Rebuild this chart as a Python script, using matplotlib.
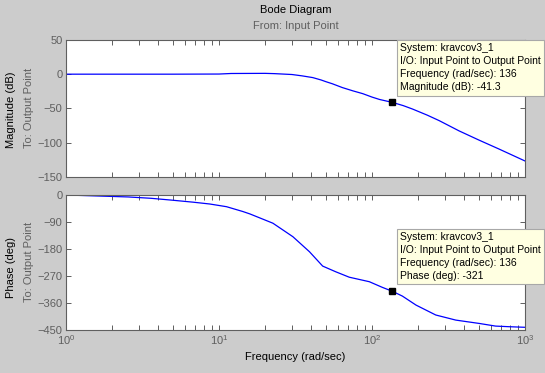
import matplotlib
matplotlib.use("Agg")
import matplotlib.pyplot as plt
from matplotlib.ticker import LogLocator, NullFormatter, FixedLocator

plt.rcParams['font.family'] = ['Liberation Sans', 'DejaVu Sans']
plt.rcParams['mathtext.fontset'] = 'custom'
plt.rcParams['mathtext.rm'] = 'Liberation Sans'
plt.rcParams['mathtext.it'] = 'Liberation Sans'

# ---- data ----
mag_freq = [1, 5, 10, 12, 20, 23, 30, 35, 41, 46.5, 50, 55, 64, 75, 87, 100,
            112, 136, 160, 184, 230, 275, 371, 501, 676, 1000]
mag_db = [0, 0, 0.2, 1.0, 1.2, 0.8, -0.5, -2.5, -5, -8.5, -11, -14, -19.6, -24.4,
          -28.5, -33.5, -37, -41.3, -46, -51, -60, -68, -83, -96.5, -109.5, -127]

ph_freq = [1, 1.55, 2.55, 3.6, 5.0, 6.8, 8.7, 11.2, 14.3, 15.9, 18.4, 22.5, 30.4,
           39, 47.6, 58, 71, 96, 117, 136, 158, 194, 261, 353, 500, 643, 785, 1000]
ph_deg = [0, -3, -6.5, -11, -17.5, -24, -30, -39, -55, -63, -76, -94, -139,
          -189, -237, -256, -274, -289, -308, -321, -337, -367, -400, -417, -428,
          -437, -439, -441]

tip_freq = 136
tip_mag = -41.3
tip_phase = -321
system_name = "kravcov3_1"

mag_ticks = [-150, -100, -50, 0, 50]
ph_ticks = [-450, -360, -270, -180, -90, 0]

# ---- styling ----
W, H = 545, 373
bg = '#cccccc'
axc = '#5f5f5f'
fig = plt.figure(figsize=(W / 100, H / 100), dpi=100, facecolor=bg)

def px(x, y):
    return x / W, 1 - y / H

left, right = 66, 525
ax1 = fig.add_axes([left / W, 1 - 176.7 / H, (right - left) / W, 136.7 / H])
ax2 = fig.add_axes([left / W, 1 - 330 / H, (right - left) / W, 135 / H])

for ax in (ax1, ax2):
    ax.set_xscale('log')
    ax.set_xlim(1, 1000)
    ax.set_facecolor('white')
    for s in ax.spines.values():
        s.set_color(axc)
        s.set_linewidth(0.8)
    ax.xaxis.set_minor_locator(LogLocator(base=10, subs=range(2, 10)))
    ax.xaxis.set_minor_formatter(NullFormatter())
    ax.tick_params(which='both', direction='in', top=True, right=True,
                   length=3.3, width=0.7, color=axc, labelcolor=axc,
                   labelsize=8, pad=2.5)

ax1.set_ylim(-150, 50)
ax1.yaxis.set_major_locator(FixedLocator(mag_ticks))
ax1.tick_params(axis='x', labelbottom=False)
ax2.set_ylim(-450, 0)
ax2.yaxis.set_major_locator(FixedLocator(ph_ticks))
ax2.tick_params(axis='x', pad=2)

ax1.plot(mag_freq, mag_db, color='#0000ff', lw=0.9)
ax2.plot(ph_freq, ph_deg, color='#0000ff', lw=0.9)

ax1.plot([tip_freq], [tip_mag], marker='s', ms=4.6, color='black', zorder=5)
ax2.plot([tip_freq], [tip_phase], marker='s', ms=4.6, color='black', zorder=5)

box = dict(boxstyle='square,pad=0.3', facecolor='#ffffe1', edgecolor='#a8a8a8', lw=0.8)
tip1 = (f"System: {system_name}\nI/O: Input Point to Output Point\n"
        f"Frequency (rad/sec): {tip_freq}\nMagnitude (dB): {tip_mag}")
tip2 = (f"System: {system_name}\nI/O: Input Point to Output Point\n"
        f"Frequency (rad/sec): {tip_freq}\nPhase (deg): {tip_phase}")
for ax, y, t in ((ax1, tip_mag, tip1), (ax2, tip_phase, tip2)):
    a = ax.annotate(t, xy=(tip_freq, y), xytext=(8, 10), textcoords='offset pixels',
                    ha='left', va='bottom', fontsize=7.5, linespacing=1.38,
                    bbox=box, annotation_clip=False, zorder=10, color='black')
    a.set_clip_on(False)

# ---- texts ----
cx = (left + right) / 2
fig.text(*px(cx, 10), "Bode Diagram", ha='center', va='center', fontsize=8, color='black')
fig.text(*px(cx, 26), "From: Input Point", ha='center', va='center', fontsize=8, color=axc)
fig.text(*px(cx, 357), "Frequency (rad/sec)", ha='center', va='center', fontsize=8, color='black')
fig.text(*px(11, 110), "Magnitude (dB)", ha='center', va='center', rotation=90, fontsize=8, color='black')
fig.text(*px(29, 108), "To: Output Point", ha='center', va='center', rotation=90, fontsize=8, color=axc)
fig.text(*px(11, 268), "Phase (deg)", ha='center', va='center', rotation=90, fontsize=8, color='black')
fig.text(*px(29, 262), "To: Output Point", ha='center', va='center', rotation=90, fontsize=8, color=axc)

fig.savefig("out.png", dpi=100, facecolor=bg)
